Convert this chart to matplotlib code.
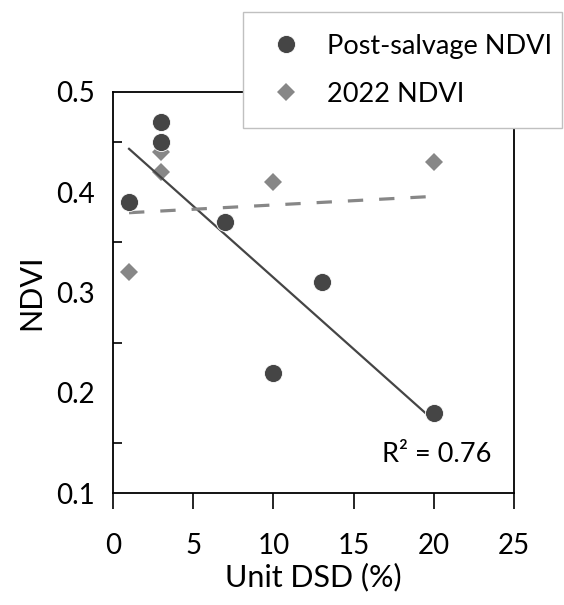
import matplotlib
matplotlib.use("Agg")
import matplotlib.pyplot as plt
import numpy as np

plt.rcParams["font.family"] = ["Lato", "DejaVu Sans"]

# Unit DSD (%) and NDVI values
dsd_post = [1, 3, 3, 7, 10, 13, 20]
ndvi_post = [0.39, 0.47, 0.45, 0.37, 0.22, 0.31, 0.18]

dsd_2022 = [1, 3, 3, 7, 10, 13, 20]
ndvi_2022 = [0.32, 0.44, 0.42, 0.37, 0.41, 0.31, 0.43]

xticks = [0, 5, 10, 15, 20, 25]
yticks = [0.1, 0.2, 0.3, 0.4, 0.5]

dark = "#454545"
grey = "#878787"

fig = plt.figure(figsize=(5.64, 6.05), dpi=100)
ax = fig.add_axes([113 / 564, 112 / 605, 401 / 564, 401 / 605])

# diamonds first, then trend lines, then circles on top
d = ax.plot(dsd_2022, ndvi_2022, "D", color=grey, markersize=9.2, markeredgewidth=0,
            linestyle="none", zorder=2, label="2022 NDVI")[0]

xs = np.array([min(dsd_post), max(dsd_post)])
m, b = np.polyfit(dsd_post, ndvi_post, 1)
ax.plot(xs, m * xs + b, color=dark, lw=1.6, zorder=3)
m2, b2 = np.polyfit(dsd_2022, ndvi_2022, 1)
ax.plot(xs, m2 * xs + b2, color=grey, lw=2.3, dashes=(4.8, 5.0), zorder=3)

c = ax.plot(dsd_post, ndvi_post, "o", color=dark, markersize=13, markeredgecolor="white",
            markeredgewidth=0.6, linestyle="none", zorder=4, label="Post-salvage NDVI")[0]

ax.set_xlim(0, 25)
ax.set_ylim(0.1, 0.5)
ax.set_xticks(xticks)
ax.set_xticklabels([str(t) for t in xticks])
ax.set_yticks(yticks)
ax.set_yticklabels([f"{t:.1f}" for t in yticks])
ax.set_yticks([0.15, 0.25, 0.35, 0.45], minor=True)

ax.tick_params(axis="x", direction="out", length=11.5, width=1.2, labelsize=20, pad=17)
ax.tick_params(axis="y", which="major", length=0, labelsize=20, pad=13)
ax.tick_params(axis="y", which="minor", direction="in", length=6.5, width=1.2)
for s in ax.spines.values():
    s.set_linewidth(1.3)

ax.set_xlabel("Unit DSD (%)", fontsize=22, labelpad=3)
ax.set_ylabel("NDVI", fontsize=22, labelpad=8)

ax.text(0.943, 0.077, "R² = 0.76", transform=ax.transAxes, ha="right", va="baseline", fontsize=19.5)

leg = fig.legend([c, d], ["Post-salvage NDVI", "2022 NDVI"], loc="upper left",
                 bbox_to_anchor=(243 / 564, 1 - 12 / 605, 319 / 564, 0), mode="expand",
                 fontsize=19.5, frameon=True, fancybox=False, framealpha=1,
                 handletextpad=0.69, borderpad=0.8, labelspacing=0.85, handlelength=1.6,
                 borderaxespad=0)
leg.get_frame().set_edgecolor("#c0c0c0")
leg.get_frame().set_linewidth(1.0)
leg.set_zorder(10)

fig.savefig("out.png", dpi=100)
